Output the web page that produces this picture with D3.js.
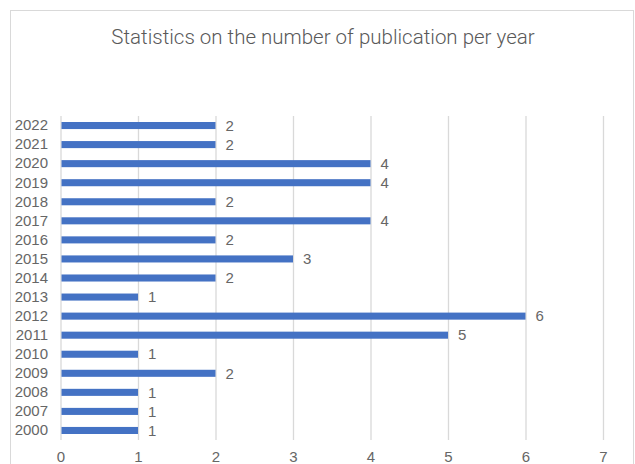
<!DOCTYPE html>
<html><head><meta charset="utf-8">
<script src="https://cdn.jsdelivr.net/npm/d3@7"></script>
<style>body{margin:0;background:#fff;} svg{display:block;}</style>
</head><body>
<svg id="c" width="635" height="464"></svg>
<script>
const years = ["2022","2021","2020","2019","2018","2017","2016","2015","2014","2013","2012","2011","2010","2009","2008","2007","2000"];
const counts = [2,2,4,4,2,4,2,3,2,1,6,5,1,2,1,1,1];
const xTicks = [0,1,2,3,4,5,6,7];
const title = "Statistics on the number of publication per year";

const svg = d3.select("#c");
svg.append("rect").attr("x",10.5).attr("y",10.5).attr("width",623).attr("height",470)
  .attr("fill","#fff").attr("stroke","#d9d9d9");

const x = d3.scaleLinear().domain([0,7]).range([60.5,603]);
const y = d3.scaleBand().domain(years).range([116,440]).paddingInner(0.63).paddingOuter(0.315);
const font = "Liberation Sans, Arial, sans-serif";

const xAxis = svg.append("g").attr("transform","translate(0,440)")
  .call(d3.axisBottom(x).tickValues(xTicks).tickSize(-324).tickPadding(11).tickFormat(d3.format("d")));
xAxis.select(".domain").remove();
xAxis.selectAll(".tick line").attr("stroke","#d9d9d9").attr("stroke-width",1.3);
xAxis.selectAll(".tick text").attr("fill","#666").attr("font-family",font).attr("font-size",15);

const yAxis = svg.append("g").attr("transform","translate(48,0)")
  .call(d3.axisLeft(y).tickSize(0).tickPadding(0));
yAxis.select(".domain").remove();
yAxis.selectAll(".tick text").attr("fill","#666").attr("font-family",font).attr("font-size",15);

svg.append("g").selectAll("rect").data(years).join("rect")
  .attr("x",x(0)+1).attr("y",d=>y(d))
  .attr("width",(d,i)=>x(counts[i])-x(0)-1).attr("height",y.bandwidth())
  .attr("fill","#4472C4");

svg.append("g").selectAll("text").data(years).join("text")
  .attr("x",(d,i)=>x(counts[i])+10).attr("y",d=>y(d)+y.bandwidth()/2)
  .attr("dy","0.35em").attr("fill","#666")
  .attr("font-family",font).attr("font-size",15)
  .text((d,i)=>counts[i]);

svg.append("text").attr("x",323).attr("y",44).attr("text-anchor","middle")
  .attr("fill","#595959").attr("font-family","Roboto, sans-serif").attr("font-weight",300)
  .attr("font-size",20.5).text(title);
</script>
</body></html>
